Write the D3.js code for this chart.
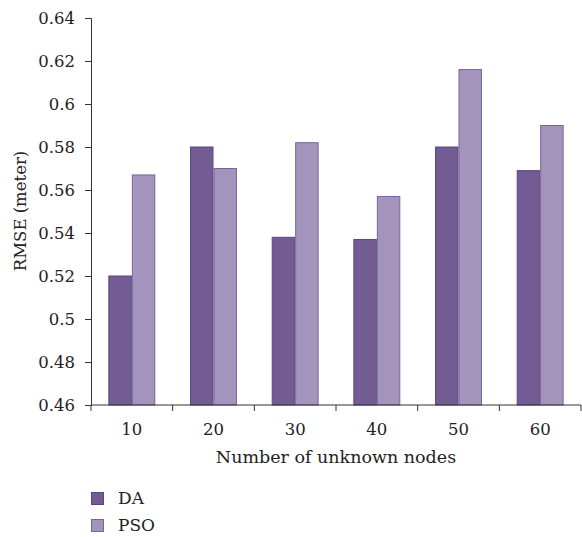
<!DOCTYPE html>
<html><head><meta charset="utf-8">
<script src="https://cdn.jsdelivr.net/npm/d3@7"></script>
<style>body{margin:0;background:#fff}svg{display:block}</style>
</head><body><svg id="c" width="582" height="537"></svg>
<script>
const categories = ["10","20","30","40","50","60"];
const seriesNames = ["DA","PSO"];
const daValues = [0.520,0.580,0.538,0.537,0.580,0.569];
const psoValues = [0.567,0.570,0.582,0.557,0.616,0.590];
const yTicks = [0.46,0.48,0.5,0.52,0.54,0.56,0.58,0.6,0.62,0.64];
const colors = ["#735b94","#a394bc"];
const strokes = ["#5c4680","#7a639c"];
const FONT = "'DejaVu Serif', 'Liberation Serif', serif";

const svg = d3.select("#c");
const L=91,R=581,T=18,B=405;
const x = d3.scaleBand().domain(categories).range([L,R]).padding(0);
const y = d3.scaleLinear().domain([0.46,0.64]).range([B,T]);
const inner = d3.scaleBand().domain(seriesNames).range([0,x.bandwidth()]).paddingInner(0).paddingOuter(0.74);

const series=[daValues,psoValues];
series.forEach((vals,si)=>{
  svg.append("g").selectAll("rect").data(vals).join("rect")
    .attr("x",(d,i)=>x(categories[i])+inner(seriesNames[si])+0.5)
    .attr("y",d=>y(d))
    .attr("width",inner.bandwidth()-1)
    .attr("height",d=>B-y(d))
    .attr("fill",colors[si]).attr("stroke",strokes[si]).attr("stroke-width",1);
});

// y axis
const ya = svg.append("g").attr("transform",`translate(${L},0)`)
  .call(d3.axisLeft(y).tickValues(yTicks).tickFormat(d=>String(+d.toFixed(2))).tickSize(6).tickPadding(10));
ya.select(".domain").attr("stroke","#333");
ya.selectAll(".tick line").attr("stroke","#333");
ya.selectAll("text").style("font-size","16.5px").style("font-family",FONT).attr("fill","#222");

// x axis
const xa = svg.append("g").attr("transform",`translate(0,${B})`);
xa.append("line").attr("x1",L).attr("x2",R).attr("y1",0).attr("y2",0).attr("stroke","#333");
const bounds = categories.map(c=>x(c)).concat([R]);
xa.selectAll("line.t").data(bounds).join("line").attr("class","t")
  .attr("x1",d=>d).attr("x2",d=>d).attr("y1",0).attr("y2",6).attr("stroke","#333");
xa.selectAll("text").data(categories).join("text")
  .attr("x",d=>x(d)+x.bandwidth()/2).attr("y",30).attr("text-anchor","middle")
  .style("font-size","16.5px").style("font-family",FONT).attr("fill","#222").text(d=>d);

svg.append("text").attr("x",(L+R)/2).attr("y",463).attr("text-anchor","middle")
  .style("font-size","17.5px").style("font-family",FONT).attr("fill","#222").text("Number of unknown nodes");
svg.append("text").attr("transform","translate(26,211) rotate(-90)").attr("text-anchor","middle")
  .style("font-size","16.5px").style("font-family",FONT).attr("fill","#222").text("RMSE (meter)");

// legend
const lg = svg.append("g").selectAll("g").data(seriesNames).join("g")
  .attr("transform",(d,i)=>`translate(91,${492+i*27})`);
lg.append("rect").attr("x",0.5).attr("y",0.5).attr("width",12).attr("height",12)
  .attr("fill",(d,i)=>colors[i]).attr("stroke",(d,i)=>strokes[i]);
lg.append("text").attr("x",27).attr("y",12).style("font-size","17px").style("font-family",FONT).attr("fill","#222").text(d=>d);
</script></body></html>
